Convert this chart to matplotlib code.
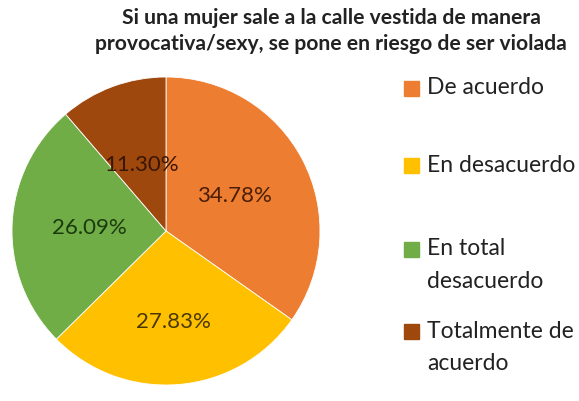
import numpy as np
import matplotlib.pyplot as plt
from matplotlib.patches import Rectangle

categories = ["De acuerdo", "En desacuerdo", "En total\ndesacuerdo", "Totalmente de\nacuerdo"]
values = [34.78, 27.83, 26.09, 11.30]
colors = ['#ED7D31', '#FFC000', '#70AD47', '#9E480E']
label_colors = ['#4a1e05', '#4a3800', '#1a3a0c', '#3a1604']
label_dist = [0.50, 0.59, 0.50, 0.46]

title = ("Si una mujer sale a la calle vestida de manera\n"
         "provocativa/sexy, se pone en riesgo de ser violada")

plt.rcParams['font.family'] = ['Lato', 'DejaVu Sans']

W, H = 579, 401
fig = plt.figure(figsize=(W/100, H/100), dpi=100)
ax = fig.add_axes([12/W, 1 - 385/H, 308/W, 308/H])

wedges, _ = ax.pie(values, colors=colors, startangle=90, counterclock=False,
                   wedgeprops=dict(edgecolor='white', linewidth=0.6))
ax.set_xlim(-1, 1)
ax.set_ylim(-1, 1)
ax.set_aspect('equal')

# percent labels along each wedge's middle angle
for w, v, d, c in zip(wedges, values, label_dist, label_colors):
    ang = np.deg2rad((w.theta1 + w.theta2) / 2)
    ax.text(d * np.cos(ang), d * np.sin(ang), f"{v:.2f}%", ha='center', va='center',
            fontsize=16, color=c)

fig.text(331/W, 1 - 31/H, title, ha='center', va='center', fontsize=15.2,
         fontweight='bold', color='#222222', linespacing=1.35)

# legend drawn by hand so the square sits on the first line
leg_y = [88, 165, 249, 331]
line_gap = 33
for w, lab, y in zip(wedges, categories, leg_y):
    fig.patches.append(Rectangle((404/W, 1 - (y + 7.5)/H), 15/W, 15/H,
                                 transform=fig.transFigure, color=w.get_facecolor()))
    for i, line in enumerate(lab.split("\n")):
        fig.text(427/W, 1 - (y + i * line_gap)/H, line, ha='left', va='center',
                 fontsize=16.5, color='#222222')

plt.savefig("out.png", dpi=100)
